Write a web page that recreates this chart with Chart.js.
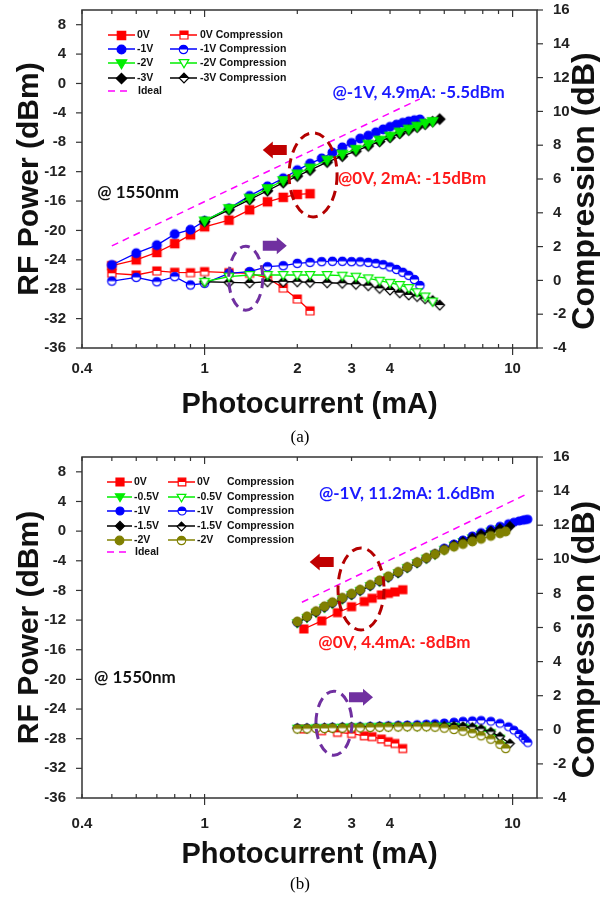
<!DOCTYPE html>
<html>
<head>
<meta charset="utf-8">
<script src="https://cdn.jsdelivr.net/npm/chart.js@4.4.1/dist/chart.umd.min.js"></script>
<style>
  body { margin: 0; background: #fff; width: 600px; height: 899px; position: relative; overflow: hidden; }
  .panel { position: absolute; left: 0; width: 600px; }
  .cap { position: absolute; left: 0; width: 600px; text-align: center; font: 17px "Liberation Serif", serif; line-height: 20px; }
</style>
</head>
<body>
<div class="panel" style="top:0;height:430px"><canvas id="chartA"></canvas></div>
<div class="cap" style="top:427px">(a)</div>
<div class="panel" style="top:445px;height:435px"><canvas id="chartB"></canvas></div>
<div class="cap" style="top:874px">(b)</div>
<script>
// axis ticks
const xTicks = [0.4, 0.5, 0.6, 0.7, 0.8, 0.9, 1, 2, 3, 4, 5, 6, 7, 8, 9, 10];
const xLabels = [0.4, 1, 2, 3, 4, 10];

// ---- panel (a) ----
const xA0 = [0.5, 0.6, 0.7, 0.8, 0.9, 1.0, 1.2, 1.4, 1.6, 1.8, 2.0, 2.2];
const rfA0 = [-24.8, -24.0, -23.0, -21.8, -20.6, -19.5, -18.6, -17.2, -16.1, -15.5, -15.1, -15.0];
const cpA0 = [0.42, 0.32, 0.56, 0.48, 0.46, 0.52, 0.46, 0.42, 0.15, -0.45, -1.1, -1.8];

const xA1 = [0.5, 0.6, 0.7, 0.8, 0.9, 1.0, 1.2, 1.4, 1.6, 1.8, 2.0, 2.2, 2.4, 2.6, 2.8, 3.0, 3.2, 3.4, 3.6, 3.8, 4.0, 4.2, 4.4, 4.6, 4.8, 5.0];
const rfA1 = [-24.7, -23.1, -22.0, -20.5, -19.9, -18.7, -17.0, -15.3, -14.0, -12.9, -11.8, -10.9, -10.2, -9.4, -8.7, -8.1, -7.5, -7.1, -6.65, -6.25, -5.9, -5.6, -5.35, -5.15, -5.0, -4.9];
const cpA1 = [-0.04, 0.18, -0.08, 0.22, -0.27, -0.17, 0.42, 0.52, 0.81, 0.87, 1.01, 1.07, 1.11, 1.13, 1.13, 1.11, 1.10, 1.07, 1.01, 0.93, 0.80, 0.65, 0.48, 0.30, 0.05, -0.30];

const xA2 = [1.0, 1.2, 1.4, 1.6, 1.8, 2.0, 2.2, 2.5, 2.8, 3.1, 3.4, 3.7, 4.0, 4.3, 4.6, 4.9, 5.2, 5.5];
const rfA2 = [-18.7, -17.0, -15.6, -14.3, -13.2, -12.3, -11.5, -10.4, -9.6, -8.95, -8.25, -7.7, -7.15, -6.6, -6.2, -5.8, -5.4, -5.15];
const cpA2 = [-0.08, 0.22, 0.32, 0.32, 0.32, 0.32, 0.32, 0.32, 0.28, 0.22, 0.12, -0.02, -0.14, -0.27, -0.45, -0.7, -0.95, -1.25];

const xA3 = [1.0, 1.2, 1.4, 1.6, 1.8, 2.0, 2.2, 2.5, 2.8, 3.1, 3.4, 3.7, 4.0, 4.3, 4.6, 4.9, 5.2, 5.5, 5.8];
const rfA3 = [-18.8, -17.2, -15.8, -14.6, -13.5, -12.6, -11.8, -10.7, -9.9, -9.2, -8.5, -7.9, -7.35, -6.8, -6.35, -5.95, -5.55, -5.2, -4.85];
const cpA3 = [-0.08, -0.12, -0.15, -0.08, -0.08, -0.08, -0.12, -0.14, -0.17, -0.23, -0.31, -0.47, -0.57, -0.73, -0.86, -0.95, -1.08, -1.2, -1.46];

const xAid = [0.5, 5.0];
const rfAid = [-22.1, -2.1];

// ---- panel (b) ----
const xB0 = [2.1, 2.4, 2.7, 3.0, 3.3, 3.5, 3.75, 3.95, 4.15, 4.4];
const rfB0 = [-13.2, -12.1, -11.0, -10.2, -9.5, -9.06, -8.6, -8.4, -8.2, -7.9];
const cpB0 = [0.05, -0.05, -0.15, -0.22, -0.35, -0.4, -0.54, -0.7, -0.8, -1.1];

const xB05 = [2.0, 2.15, 2.3, 2.45, 2.6, 2.8, 3.0, 3.2, 3.45, 3.7, 3.95, 4.25, 4.55, 4.9, 5.25, 5.6, 6.0, 6.45, 6.9, 7.4, 7.9, 8.5, 9.1, 9.6];
const rfB05 = [-12.4, -11.7, -11.0, -10.35, -9.8, -9.2, -8.6, -8.05, -7.4, -6.8, -6.25, -5.65, -4.95, -4.3, -3.7, -3.15, -2.5, -1.95, -1.45, -0.95, -0.5, -0.05, 0.3, 0.5];
const cpB05 = [0.08, 0.08, 0.1, 0.1, 0.12, 0.14, 0.15, 0.16, 0.17, 0.18, 0.19, 0.2, 0.2, 0.2, 0.21, 0.21, 0.2, 0.18, 0.15, 0.08, -0.02, -0.18, -0.5, -0.95];

const xB1 = [2.0, 2.15, 2.3, 2.45, 2.6, 2.8, 3.0, 3.2, 3.45, 3.7, 3.95, 4.25, 4.55, 4.9, 5.25, 5.6, 6.0, 6.45, 6.9, 7.4, 7.9, 8.5, 9.1, 9.7, 10.1, 10.5, 10.8, 11.0, 11.2];
const rfB1 = [-12.3, -11.6, -10.9, -10.25, -9.7, -9.1, -8.55, -8.0, -7.35, -6.75, -6.2, -5.6, -4.9, -4.25, -3.65, -3.05, -2.3, -1.75, -1.2, -0.65, -0.2, 0.25, 0.65, 1.0, 1.2, 1.38, 1.48, 1.55, 1.6];
const cpB1 = [0.1, 0.1, 0.12, 0.12, 0.15, 0.15, 0.17, 0.18, 0.2, 0.22, 0.24, 0.26, 0.28, 0.3, 0.33, 0.36, 0.4, 0.45, 0.5, 0.53, 0.55, 0.5, 0.38, 0.18, -0.02, -0.25, -0.45, -0.6, -0.75];

const xB15 = [2.0, 2.15, 2.3, 2.45, 2.6, 2.8, 3.0, 3.2, 3.45, 3.7, 3.95, 4.25, 4.55, 4.9, 5.25, 5.6, 6.0, 6.45, 6.9, 7.4, 7.9, 8.5, 9.1, 9.8];
const rfB15 = [-12.3, -11.6, -10.9, -10.25, -9.7, -9.1, -8.55, -8.0, -7.35, -6.75, -6.2, -5.6, -4.9, -4.25, -3.65, -3.1, -2.45, -1.9, -1.4, -0.9, -0.45, 0.0, 0.35, 0.65];
const cpB15 = [0.1, 0.1, 0.12, 0.12, 0.14, 0.15, 0.16, 0.17, 0.18, 0.2, 0.2, 0.22, 0.22, 0.22, 0.23, 0.23, 0.22, 0.22, 0.2, 0.15, 0.05, -0.12, -0.4, -0.8];

const xB2 = [2.0, 2.15, 2.3, 2.45, 2.6, 2.8, 3.0, 3.2, 3.45, 3.7, 3.95, 4.25, 4.55, 4.9, 5.25, 5.6, 6.0, 6.45, 6.9, 7.4, 7.9, 8.5, 9.1, 9.5];
const rfB2 = [-12.2, -11.5, -10.8, -10.15, -9.6, -9.0, -8.45, -7.9, -7.25, -6.65, -6.1, -5.5, -4.85, -4.2, -3.6, -3.1, -2.55, -2.1, -1.75, -1.4, -1.05, -0.65, -0.3, -0.05];
const cpB2 = [0.05, 0.06, 0.08, 0.08, 0.1, 0.1, 0.12, 0.12, 0.14, 0.15, 0.16, 0.17, 0.18, 0.18, 0.18, 0.16, 0.1, 0.02, -0.08, -0.2, -0.35, -0.55, -0.85, -1.1];

const xBid = [2.07, 11.25];
const rfBid = [-9.6, 5.1];

const SANS = '"Liberation Sans", Arial, sans-serif';
const RED = '#ff0000', BLUE = '#0000ff', GREEN = '#00ee00', BLACK = '#000000', OLIVE = '#808000', MAG = '#ff00ff';

// marker images: full, half (top filled) or open
function marker(shape, color, r, mode) {
    const size = Math.ceil(2 * r + 4);
    const cv = document.createElement('canvas');
    cv.width = cv.height = size;
    const g = cv.getContext('2d');
    const m = size / 2;
    const path = () => {
        g.beginPath();
        if (shape === 'square') g.rect(m - r, m - r, 2 * r, 2 * r);
        else if (shape === 'circle') g.arc(m, m, r, 0, Math.PI * 2);
        else if (shape === 'diamond') { g.moveTo(m, m - r); g.lineTo(m + r, m); g.lineTo(m, m + r); g.lineTo(m - r, m); g.closePath(); }
        else { g.moveTo(m - r, m - r * 0.7); g.lineTo(m + r, m - r * 0.7); g.lineTo(m, m + r); g.closePath(); }
    };
    path();
    g.fillStyle = mode === 'full' ? color : '#fff';
    g.fill();
    if (mode === 'half') {
        g.save(); path(); g.clip();
        g.fillStyle = color; g.fillRect(0, 0, size, m);
        g.restore();
    }
    g.lineWidth = 1.2; g.strokeStyle = color; path(); g.stroke();
    return cv;
}

function series(label, xs, ys, axis, color, img, extra) {
    return Object.assign({
        label: label,
        data: xs.map((x, i) => ({ x: x, y: ys[i] })),
        yAxisID: axis,
        borderColor: color,
        backgroundColor: color,
        borderWidth: 1.3,
        pointStyle: img,
        pointRadius: 5,
        pointHoverRadius: 5,
        fill: false,
        tension: 0,
        showLine: true
    }, extra || {});
}

function idealLine(xs, ys) {
    return series('Ideal', xs, ys, 'y', MAG, false, { borderDash: [7, 5], borderWidth: 1.5, pointRadius: 0 });
}

function decor(cfg) {
    return {
        id: 'decor',
        afterDatasetsDraw(chart) {
            const g = chart.ctx, a = chart.chartArea;
            const sx = chart.scales.x, sy = chart.scales.y, s2 = chart.scales.y2;
            const X = v => sx.getPixelForValue(v), Y = v => sy.getPixelForValue(v);
            const seg = (x0, y0, x1, y1) => { g.beginPath(); g.moveTo(x0, y0); g.lineTo(x1, y1); g.stroke(); };
            g.save();

            // frame and tick marks
            g.strokeStyle = '#333'; g.lineWidth = 1.2;
            sy.ticks.forEach(t => { const p = Y(t.value); seg(a.left - (t.value % 4 === 0 ? 6 : 3), p, a.left, p); });
            s2.ticks.forEach(t => { const p = s2.getPixelForValue(t.value); seg(a.right, p, a.right + (t.value % 2 === 0 ? 6 : 3), p); });
            sx.ticks.forEach(t => {
                const p = X(t.value), maj = t.value === 1 || t.value === 10;
                seg(p, a.bottom - 4, p, a.bottom + (maj ? 7 : 0));
                seg(p, a.top, p, a.top + (maj ? 7 : 4));
            });
            g.lineWidth = 1.5;
            g.strokeRect(a.left, a.top, a.right - a.left, a.bottom - a.top);

            // dashed ellipses
            g.lineWidth = 3;
            g.setLineDash([10, 6]);
            cfg.ellipses.forEach(e => {
                g.strokeStyle = e.color;
                g.beginPath(); g.ellipse(X(e.x), Y(e.y), e.rx, e.ry, 0, 0, Math.PI * 2); g.stroke();
            });
            g.setLineDash([]);

            // block arrows
            cfg.arrows.forEach(w => {
                const cx = X(w.x), cy = Y(w.y), d = w.dir;
                const tip = cx + d * 12, tail = cx - d * 12, neck = tip - d * 10;
                g.beginPath();
                g.moveTo(tail, cy - 5); g.lineTo(neck, cy - 5); g.lineTo(neck, cy - 8.5); g.lineTo(tip, cy);
                g.lineTo(neck, cy + 8.5); g.lineTo(neck, cy + 5); g.lineTo(tail, cy + 5); g.closePath();
                g.fillStyle = w.color; g.fill();
            });

            // text notes
            g.textBaseline = 'middle'; g.textAlign = 'left';
            g.font = 'bold 17px Lato, "Open Sans", sans-serif';
            cfg.notes.forEach(n => { g.fillStyle = n.color; g.fillText(n.t, X(n.x), Y(n.y)); });

            // legend
            g.font = 'bold 10.5px ' + SANS;
            cfg.legend.forEach(l => {
                const ds = chart.data.datasets.find(d => d.label === l.ds);
                const y = a.top + l.dy, x0 = a.left + l.x0, x1 = a.left + l.x1;
                g.strokeStyle = ds.borderColor; g.lineWidth = 1.5;
                g.setLineDash(ds.borderDash || []);
                seg(x0, y, x1, y);
                g.setLineDash([]);
                if (ds.pointStyle) {
                    const im = ds.pointStyle;
                    g.drawImage(im, Math.round((x0 + x1) / 2 - im.width / 2), Math.round(y - im.height / 2));
                }
                g.fillStyle = '#111';
                g.fillText(l.t, a.left + l.tx, y);
                if (l.t2) g.fillText(l.t2, a.left + l.tx2, y);
            });

            // right axis title, reading bottom to top
            g.translate(585, (a.top + a.bottom) / 2 + 12);
            g.rotate(-Math.PI / 2);
            g.textAlign = 'center';
            g.font = 'bold 32px ' + SANS;
            g.fillStyle = '#111';
            g.fillText('Compression (dB)', 0, 0);
            g.restore();
        }
    };
}

function options(padTop, tickPad) {
    const tickFont = { family: SANS, size: 15, weight: 'bold' };
    const noPadV = s => { s.paddingTop = 0; s.paddingBottom = 0; };
    return {
        responsive: true,
        maintainAspectRatio: false,
        animation: false,
        events: [],
        layout: { padding: { top: padTop, left: 0, right: 0, bottom: 0 } },
        plugins: { legend: { display: false }, tooltip: { enabled: false } },
        scales: {
            x: {
                type: 'logarithmic', min: 0.4, max: 12,
                grid: { display: false }, border: { display: false },
                afterBuildTicks: s => { s.ticks = xTicks.map(v => ({ value: v })); },
                afterFit: s => { s.height = 82; s.paddingLeft = 0; s.paddingRight = 0; },
                ticks: {
                    autoSkip: false, maxRotation: 0, padding: tickPad, color: '#222', font: tickFont,
                    callback: v => xLabels.includes(v) ? String(v) : ''
                },
                title: { display: true, text: 'Photocurrent (mA)', color: '#111', font: { family: SANS, size: 29, weight: 'bold' }, padding: { top: 0, bottom: 7.5 } }
            },
            y: {
                position: 'left', min: -36, max: 10,
                grid: { display: false }, border: { display: false },
                afterFit: s => { s.width = 82; noPadV(s); },
                ticks: { stepSize: 2, padding: 8, color: '#222', font: tickFont, callback: v => v % 4 === 0 ? String(v) : '' },
                title: { display: true, text: 'RF Power (dBm)', color: '#111', font: { family: SANS, size: 30, weight: 'bold' }, padding: { top: 12, bottom: 0 } }
            },
            y2: {
                position: 'right', min: -4, max: 16,
                grid: { display: false }, border: { display: false },
                afterFit: s => { s.width = 63; noPadV(s); },
                ticks: { stepSize: 1, padding: 8, color: '#222', font: tickFont, callback: v => v % 2 === 0 ? String(v) : '' }
            }
        }
    };
}

// ---- chart (a) ----
const dsA = [
    series('-2V', xA2, rfA2, 'y', GREEN, marker('tri', GREEN, 5.2, 'full')),
    series('-3V', xA3, rfA3, 'y', BLACK, marker('diamond', BLACK, 5.2, 'full')),
    series('-1V', xA1, rfA1, 'y', BLUE, marker('circle', BLUE, 4.4, 'full')),
    series('0V', xA0, rfA0, 'y', RED, marker('square', RED, 4.2, 'full')),
    series('-2V C', xA2, cpA2, 'y2', GREEN, marker('tri', GREEN, 4.8, 'open')),
    series('-3V C', xA3, cpA3, 'y2', BLACK, marker('diamond', BLACK, 4.8, 'half')),
    series('-1V C', xA1, cpA1, 'y2', BLUE, marker('circle', BLUE, 4.2, 'half')),
    series('0V C', xA0, cpA0, 'y2', RED, marker('square', RED, 4, 'half')),
    idealLine(xAid, rfAid)
];

const cfgA = {
    legend: [
        { ds: '0V', dy: 25, x0: 26, x1: 53, tx: 55, t: '0V' },
        { ds: '-1V', dy: 39, x0: 26, x1: 53, tx: 55, t: '-1V' },
        { ds: '-2V', dy: 53, x0: 26, x1: 53, tx: 55, t: '-2V' },
        { ds: '-3V', dy: 68, x0: 26, x1: 53, tx: 55, t: '-3V' },
        { ds: 'Ideal', dy: 81, x0: 26, x1: 50, tx: 56, t: 'Ideal' },
        { ds: '0V C', dy: 25, x0: 88, x1: 115, tx: 118, t: '0V Compression' },
        { ds: '-1V C', dy: 39, x0: 88, x1: 115, tx: 118, t: '-1V Compression' },
        { ds: '-2V C', dy: 53, x0: 88, x1: 115, tx: 118, t: '-2V Compression' },
        { ds: '-3V C', dy: 68, x0: 88, x1: 115, tx: 118, t: '-3V Compression' }
    ],
    notes: [
        { t: '@-1V, 4.9mA: -5.5dBm', x: 2.6, y: -1.2, color: '#1a1aff' },
        { t: '@0V, 2mA: -15dBm', x: 2.71, y: -12.9, color: '#ff1a1a' },
        { t: '@ 1550nm', x: 0.448, y: -14.9, color: '#111' }
    ],
    ellipses: [
        { x: 2.25, y: -12.45, rx: 24, ry: 42, color: '#b40000' },
        { x: 1.36, y: -26.5, rx: 17, ry: 32, color: '#7030a0' }
    ],
    arrows: [
        { x: 1.69, y: -9.05, dir: -1, color: '#c00000' },
        { x: 1.69, y: -22.1, dir: 1, color: '#7030a0' }
    ]
};

new Chart(document.getElementById('chartA'), {
    type: 'line',
    data: { datasets: dsA },
    options: options(10, 4),
    plugins: [decor(cfgA)]
});

// ---- chart (b) ----
const dsB = [
    series('-2V', xB2, rfB2, 'y', OLIVE, marker('circle', OLIVE, 4.3, 'full')),
    series('-1.5V', xB15, rfB15, 'y', BLACK, marker('diamond', BLACK, 4.6, 'full')),
    series('-1V', xB1, rfB1, 'y', BLUE, marker('circle', BLUE, 4, 'full')),
    series('-0.5V', xB05, rfB05, 'y', GREEN, marker('tri', GREEN, 4.6, 'full')),
    series('0V', xB0, rfB0, 'y', RED, marker('square', RED, 4, 'full')),
    series('-2V C', xB2, cpB2, 'y2', OLIVE, marker('circle', OLIVE, 4.2, 'half')),
    series('-1.5V C', xB15, cpB15, 'y2', BLACK, marker('diamond', BLACK, 4.4, 'half')),
    series('-0.5V C', xB05, cpB05, 'y2', GREEN, marker('tri', GREEN, 4.4, 'open')),
    series('-1V C', xB1, cpB1, 'y2', BLUE, marker('circle', BLUE, 4, 'half')),
    series('0V C', xB0, cpB0, 'y2', RED, marker('square', RED, 3.8, 'half')),
    idealLine(xBid, rfBid)
];

const cfgB = {
    legend: [
        { ds: '0V', dy: 25, x0: 25, x1: 50, tx: 52, t: '0V' },
        { ds: '-0.5V', dy: 40, x0: 25, x1: 50, tx: 52, t: '-0.5V' },
        { ds: '-1V', dy: 54, x0: 25, x1: 50, tx: 52, t: '-1V' },
        { ds: '-1.5V', dy: 69, x0: 25, x1: 50, tx: 52, t: '-1.5V' },
        { ds: '-2V', dy: 83, x0: 25, x1: 50, tx: 52, t: '-2V' },
        { ds: 'Ideal', dy: 95, x0: 25, x1: 49, tx: 53, t: 'Ideal' },
        { ds: '0V C', dy: 25, x0: 86, x1: 113, tx: 115, t: '0V', tx2: 145, t2: 'Compression' },
        { ds: '-0.5V C', dy: 40, x0: 86, x1: 113, tx: 115, t: '-0.5V', tx2: 145, t2: 'Compression' },
        { ds: '-1V C', dy: 54, x0: 86, x1: 113, tx: 115, t: '-1V', tx2: 145, t2: 'Compression' },
        { ds: '-1.5V C', dy: 69, x0: 86, x1: 113, tx: 115, t: '-1.5V', tx2: 145, t2: 'Compression' },
        { ds: '-2V C', dy: 83, x0: 86, x1: 113, tx: 115, t: '-2V', tx2: 145, t2: 'Compression' }
    ],
    notes: [
        { t: '@-1V, 11.2mA: 1.6dBm', x: 2.35, y: 5.14, color: '#1a1aff' },
        { t: '@0V, 4.4mA: -8dBm', x: 2.34, y: -14.96, color: '#ff1a1a' },
        { t: '@ 1550nm', x: 0.4376, y: -19.8, color: '#111' }
    ],
    ellipses: [
        { x: 3.22, y: -7.8, rx: 23, ry: 41, color: '#b40000' },
        { x: 2.63, y: -25.9, rx: 18, ry: 32, color: '#7030a0' }
    ],
    arrows: [
        { x: 2.4, y: -4.16, dir: -1, color: '#c00000' },
        { x: 3.22, y: -22.4, dir: 1, color: '#7030a0' }
    ]
};

new Chart(document.getElementById('chartB'), {
    type: 'line',
    data: { datasets: dsB },
    options: options(12, 9),
    plugins: [decor(cfgB)]
});
</script>
</body>
</html>
